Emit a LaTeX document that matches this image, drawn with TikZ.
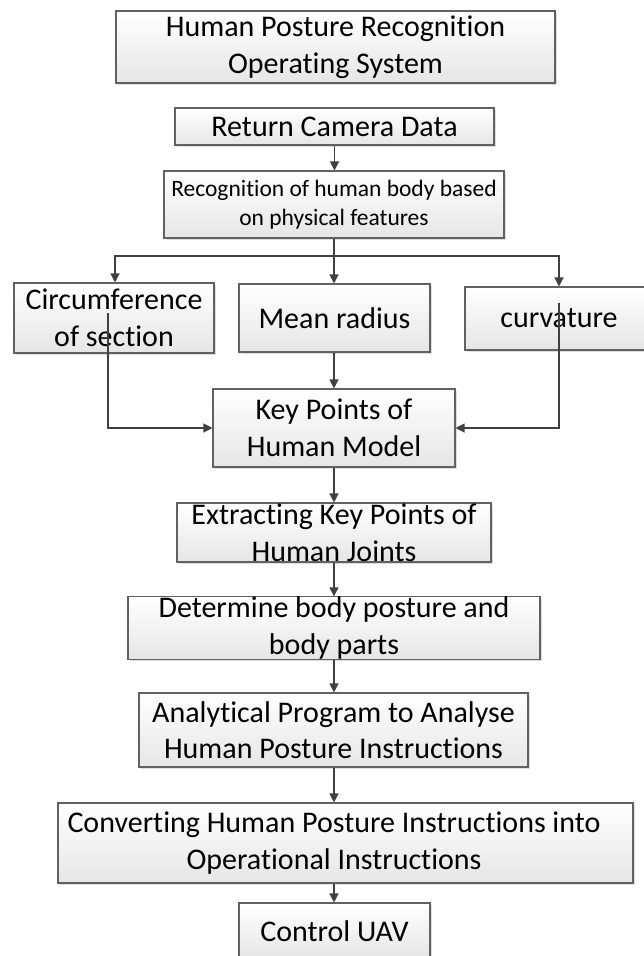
\documentclass[tikz,border=0pt]{standalone}
\usepackage{fontspec}
\setmainfont{Carlito}[Ligatures={NoCommon,NoContextual},Contextuals=NoAlternate]
\usetikzlibrary{arrows.meta,shadows,calc}

\begin{document}
\begin{tikzpicture}[x=1pt,y=-1pt,
  box/.style={draw=black!62, line width=1.1pt, top color=white, bottom color=black!10,
    inner sep=0pt, align=center, font=\fontsize{30}{36.6}\selectfont,
    drop shadow={shadow xshift=2pt, shadow yshift=-2pt, fill=black!22, opacity=0.6}},
  small/.style={font=\fontsize{23.5}{28.7}\selectfont},
  conn/.style={draw=black!75, line width=1.2pt, -{Triangle[length=9pt,width=9pt]}},
  wire/.style={draw=black!75, line width=1.2pt}
]
\fill[white] (0,0) rectangle (643,956);
\useasboundingbox (0,0) rectangle (643,956);

% boxes
\node[box, minimum width=439pt, minimum height=72pt] (sys) at (335.5,47) {Human Posture Recognition\\Operating System};
\node[box, minimum width=319pt, minimum height=37pt] (cam) at (334.5,126.5) {Return Camera Data};
\node[box, small, minimum width=340pt, minimum height=67pt] (rec) at (334,204.5) {Recognition of human body based\\on physical features};
\node[box, minimum width=200pt, minimum height=70pt] (circ) at (114,318) {Circumference\\of section};
\node[box, minimum width=191pt, minimum height=68pt] (mean) at (334.5,318) {Mean radius};
\node[box, minimum width=188pt, minimum height=63pt] (curv) at (559,318.5) {curvature};
\node[box, minimum width=242pt, minimum height=78pt] (key) at (334,428) {Key Points of\\Human Model};
\node[box, minimum width=314pt, minimum height=59pt] (ext) at (334,532.5) {Extracting Key Points of\\Human Joints};
\node[box, minimum width=412pt, minimum height=60pt] (det) at (334,628) {Determine body posture and\\body parts};
\node[box, minimum width=389pt, minimum height=74pt] (ana) at (333.5,730) {Analytical Program to Analyse\\Human Posture Instructions};
\node[box, minimum width=575pt, minimum height=80pt] (conv) at (345.5,843) {};
\node[align=center, inner sep=0pt, font=\fontsize{30}{36.6}\selectfont] (convtext) at (334,843) {Converting Human Posture Instructions into\\Operational Instructions};
\node[box, minimum width=191pt, minimum height=56pt] (ctrl) at (334.5,931) {Control UAV};

% branch points
\coordinate (split) at (334,256);
\coordinate (cs) at (108,313);
\coordinate (cv) at (559,303);

% connectors
\draw[conn] (cam.south) -- (cam.south |- rec.north);
\draw[wire] (rec.south) -- (split);
\draw[conn] (split) -- (split |- mean.north);
\draw[conn] (split) -| (115,0 |- circ.north);
\draw[conn] (split) -| (curv.north);
\draw[conn] (cs) |- (key.west);
\draw[conn] (cv) |- (key.east);
\draw[conn] (mean.south -| key.north) -- (key.north);
\draw[conn] (key.south) -- (key.south |- ext.north);
\draw[conn] (ext.south) -- (ext.south |- det.north);
\draw[conn] (det.south) -- (det.south |- ana.north);
\draw[conn] (334,0 |- ana.south) -- (334,0 |- conv.north);
\draw[conn] (334,0 |- conv.south) -- (334,0 |- ctrl.north);
\end{tikzpicture}
\end{document}
